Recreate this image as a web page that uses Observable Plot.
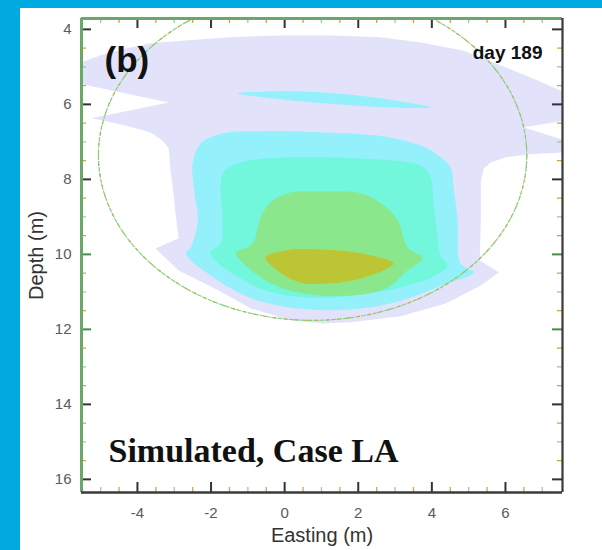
<!DOCTYPE html>
<html><head><meta charset="utf-8">
<script src="https://cdn.jsdelivr.net/npm/d3@7"></script>
<script src="https://cdn.jsdelivr.net/npm/@observablehq/plot@0.6"></script>
<style>
body{margin:0;background:#00a9e0;width:602px;height:550px;overflow:hidden;position:relative}
#panel{position:absolute;left:20px;top:8px;width:582px;height:542px;background:#fff}
#chart{position:absolute;left:0;top:0}
</style></head><body>
<div id="panel"></div><div id="chart"></div>
<script>
// ---- data (Easting m, Depth m) ----
const xDomain = [-5.52, 7.55];
const yDomain = [3.71, 16.35];
const xMajor = [-4, -2, 0, 2, 4, 6];
const xMinor = [-5, -4.5, -3.5, -3, -2.5, -1.5, -1, -0.5, 0.5, 1, 1.5, 2.5, 3, 3.5, 4.5, 5, 5.5, 6.5, 7];
const yMajor = [4, 6, 8, 10, 12, 14, 16];
const yMinor = [4.5, 5, 5.5, 6.5, 7, 7.5, 8.5, 9, 9.5, 10.5, 11, 11.5, 12.5, 13, 13.5, 14.5, 15, 15.5];

const contourLowest = [
  [-5.6,4.91],[-5.0,4.69],[-4.32,4.51],[-3.64,4.37],[-2.61,4.29],[-1.47,4.21],[-0.11,4.16],[1.25,4.16],
  [2.61,4.21],[3.70,4.35],[4.84,4.56],[5.95,4.99],[6.88,5.36],[7.6,5.68],[7.6,6.43],[6.49,6.61],
  [7.6,6.96],[7.6,7.28],[6.68,7.33],[6.01,7.41],[5.60,7.55],[5.41,7.71],[5.33,8.03],[5.33,9.09],
  [5.30,10.16],[5.82,10.48],[5.33,10.83],[4.38,11.31],[3.15,11.65],[1.79,11.81],[1.06,11.84],[0.16,11.76],
  [-0.92,11.44],[-1.79,10.96],[-2.88,10.43],[-3.51,9.84],[-2.88,9.57],[-2.96,8.96],[-3.02,8.37],[-3.10,7.76],
  [-3.15,7.17],[-3.32,6.96],[-3.64,6.75],[-4.32,6.56],[-5.24,6.37],[-3.15,5.95],[-5.6,5.44]
];
const contourStreak = [
  [-1.28,5.71],[0.16,5.65],[1.98,5.76],[3.34,5.95],[3.97,6.08],[2.88,6.08],[1.06,5.97],[-0.30,5.84]
];
const contourLevel2 = [
  [-2.28,7.04],[-1.66,6.77],[-0.65,6.72],[1.06,6.75],[2.88,6.88],[3.83,7.15],[4.24,7.41],[4.51,7.68],
  [4.59,8.21],[4.70,9.09],[4.78,10.24],[5.14,10.48],[4.43,10.77],[2.88,11.31],[1.06,11.49],[-0.73,11.23],
  [-1.82,10.69],[-2.69,9.97],[-2.55,9.81],[-2.36,9.09],[-2.47,8.21],[-2.50,7.57]
];
const contourLevel3 = [
  [-1.66,7.81],[-1.20,7.55],[0.16,7.41],[1.98,7.44],[3.42,7.55],[3.78,7.68],[3.97,7.95],[4.05,8.64],
  [4.16,9.55],[4.24,10.03],[4.43,10.29],[4.10,10.56],[3.34,10.83],[1.98,11.09],[0.63,11.15],[-0.73,10.88],
  [-2.01,9.97],[-1.74,9.71],[-1.68,9.09],[-1.74,8.21]
];
const contourLevel4 = [
  [-0.38,8.61],[0.08,8.37],[0.98,8.32],[2.07,8.37],[2.69,8.69],[3.07,9.09],[3.34,9.81],[3.75,10.11],
  [3.34,10.43],[2.80,10.88],[1.88,11.09],[0.52,11.04],[-0.38,10.77],[-1.20,10.16],[-1.33,9.97],[-0.87,9.71],
  [-0.65,9.01]
];
const contourLevel5 = [
  [-0.52,10.08],[0.08,9.89],[0.98,9.87],[2.07,9.97],[2.96,10.24],[2.80,10.37],[2.07,10.64],[1.25,10.77],
  [0.52,10.77],[0.08,10.61],[-0.30,10.35]
];
const ellipseCenter = [0.76, 7.36];
const ellipseRadii = [5.82, 4.40];

const panelLabel = ["(b)"];
const dayLabel = ["day 189"];
const caseLabel = ["Simulated, Case LA"];
const xTitle = ["Easting (m)"];
const yTitle = ["Depth (m)"];

// ---- styles ----
const polys = [contourLowest, contourStreak, contourLevel2, contourLevel3, contourLevel4, contourLevel5];
const polyColors = ["#e2e2fa", "#94f0fb", "#94f0fb", "#72f6dc", "#8ae78c", "#bcc634"];
const polyCurves = ["linear-closed", "catmull-rom-closed", "catmull-rom-closed", "catmull-rom-closed", "catmull-rom-closed", "catmull-rom-closed"];

const W = 602, H = 550, mL = 81, mR = 40, mT = 18, mB = 58;
const plotH = H - mT - mB, plotW = W - mL - mR;

const ellipsePts = d3.range(0, 361, 2).map(a => {
  const t = a * Math.PI / 180;
  return [ellipseCenter[0] + ellipseRadii[0] * Math.cos(t), ellipseCenter[1] + ellipseRadii[1] * Math.sin(t)];
});

const dark = "#333", green = "#3f8f3f", minorGreen = "#8fd68f", minorOrange = "#d9a24a";
const isHalf = d => Math.abs(d % 1) > 0;
const ticksX = (vals, len, stroke, w) => [
  Plot.tickX(vals, {x: d => d, insetTop: plotH - len, stroke, strokeWidth: w}),
  Plot.tickX(vals, {x: d => d, insetBottom: plotH - len, stroke, strokeWidth: w})
];
const ticksY = (vals, len, stroke, w) => [
  Plot.tickY(vals, {y: d => d, insetRight: plotW - len, stroke, strokeWidth: w}),
  Plot.tickY(vals, {y: d => d, insetLeft: plotW - len, stroke, strokeWidth: w})
];

const chart = Plot.plot({
  width: W, height: H,
  marginLeft: mL, marginRight: mR, marginTop: mT, marginBottom: mB,
  style: {background: "transparent", fontFamily: "Liberation Sans, Arial, sans-serif", fontSize: "15px", color: "#5a5a5a"},
  x: {domain: xDomain, ticks: xMajor, tickSize: 0, tickPadding: 15, tickFormat: d => String(d), label: null},
  y: {domain: yDomain, reverse: true, ticks: yMajor, tickSize: 0, tickPadding: 10, tickFormat: d => String(d), label: null},
  marks: [
    ...polys.map((p, i) => Plot.line(p, {x: d => d[0], y: d => d[1], fill: polyColors[i], stroke: "none", curve: polyCurves[i], clip: true})),
    Plot.line(ellipsePts, {x: d => d[0], y: d => d[1], stroke: "#7fd47f", strokeWidth: 1.2, strokeDasharray: "4,2", clip: true}),
    Plot.line(ellipsePts, {x: d => d[0], y: d => d[1], stroke: minorOrange, strokeWidth: 1.2, strokeDasharray: "1.5,9", clip: true}),
    ...ticksX(xMinor.filter(isHalf), 5, minorOrange, 1.3),
    ...ticksX(xMinor.filter(d => !isHalf(d)), 5, minorGreen, 1.3),
    ...ticksY(yMinor.filter(isHalf), 5, minorOrange, 1.3),
    ...ticksY(yMinor.filter(d => !isHalf(d)), 5, minorGreen, 1.3),
    ...ticksX(xMajor, 10, dark, 2),
    ...ticksY(yMajor.filter(d => d !== 10 && d !== 12), 10, dark, 2),
    ...ticksY(yMajor.filter(d => d === 10 || d === 12), 10, green, 2),
    Plot.ruleY([yDomain[0]], {stroke: "#6aa86a", strokeWidth: 3}),
    Plot.ruleX([xDomain[0]], {stroke: "#6aa86a", strokeWidth: 3}),
    Plot.ruleY([yDomain[1]], {stroke: "#3a3a3a", strokeWidth: 2.5}),
    Plot.ruleX([xDomain[1]], {stroke: "#3a3a3a", strokeWidth: 2.2}),
    Plot.text(panelLabel, {text: d => d, frameAnchor: "top-left", dx: 23, dy: 42, fontSize: 35, fontWeight: "bold", fontFamily: "Liberation Sans, Arial, sans-serif", textAnchor: "start", lineAnchor: "middle", fill: "#111"}),
    Plot.text(dayLabel, {text: d => d, frameAnchor: "top-right", dx: -20, dy: 34, fontSize: 19, fontWeight: "bold", fontFamily: "Liberation Sans, Arial, sans-serif", textAnchor: "end", lineAnchor: "middle", fill: "#111"}),
    Plot.text(caseLabel, {text: d => d, frameAnchor: "bottom-left", dx: 27, dy: -41, fontSize: 34, fontWeight: "bold", fontFamily: "Liberation Serif, Times New Roman, serif", textAnchor: "start", lineAnchor: "middle", fill: "#111"}),
    Plot.text(xTitle, {text: d => d, frameAnchor: "bottom", dy: 43, fontSize: 20, fontFamily: "Liberation Sans, Arial, sans-serif", textAnchor: "middle", lineAnchor: "middle", fill: "#333"}),
    Plot.text(yTitle, {text: d => d, frameAnchor: "left", dx: -45, rotate: -90, fontSize: 20, fontFamily: "Liberation Sans, Arial, sans-serif", textAnchor: "middle", lineAnchor: "middle", fill: "#333"})
  ]
});
document.getElementById("chart").appendChild(chart);
</script>
</body></html>
